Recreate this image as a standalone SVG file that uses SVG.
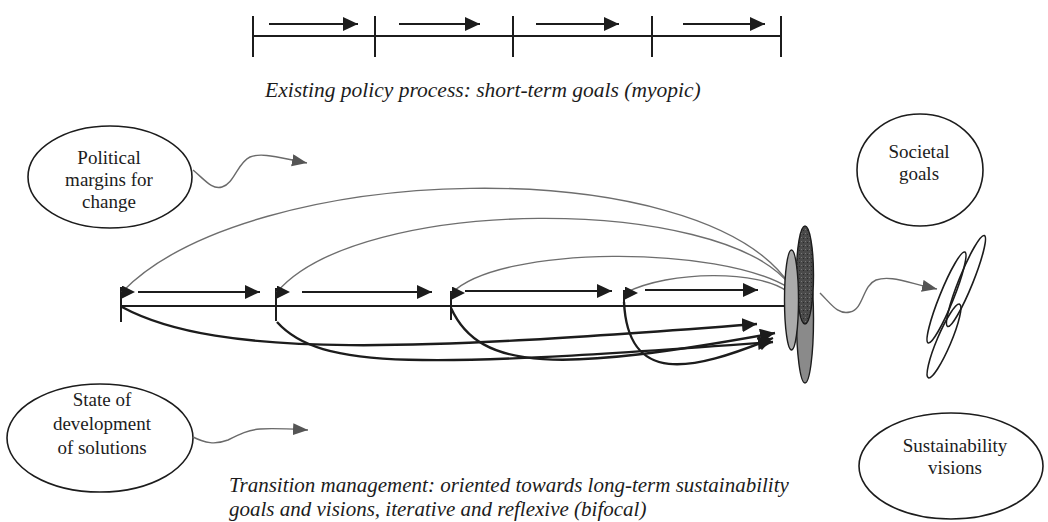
<svg xmlns="http://www.w3.org/2000/svg" width="1048" height="522" viewBox="0 0 1048 522">
<style>
.blk{stroke:#1c1c1c;stroke-width:2;fill:none}
.thk{stroke:#1c1c1c;stroke-width:2.4;fill:none}
.gry{stroke:#6e6e6e;stroke-width:1.4;fill:none}
.wav{stroke:#6a6a6a;stroke-width:1.4;fill:none}
.node{fill:#fff;stroke:#1c1c1c;stroke-width:1.6}
.lbl{font-family:"Liberation Serif","Times New Roman",serif;font-size:19px;fill:#1c1c1c;text-anchor:middle}
.cap{font-family:"Liberation Serif","Times New Roman",serif;font-style:italic;font-size:21px;fill:#1c1c1c}
</style>
<defs>
<marker id="ah" markerUnits="userSpaceOnUse" markerWidth="16" markerHeight="16" refX="15" refY="7" orient="auto"><path d="M0,0 L15,7 L0,14 z" fill="#1c1c1c"/></marker>
<marker id="ahL" markerUnits="userSpaceOnUse" markerWidth="14" markerHeight="14" refX="0" refY="6.5" orient="0"><path d="M0,0 L13,6.5 L0,13 z" fill="#1c1c1c"/></marker>
<marker id="ahG" markerUnits="userSpaceOnUse" markerWidth="16" markerHeight="14" refX="15" refY="6" orient="auto"><path d="M0,0 L15,6 L0,12 z" fill="#555"/></marker>
<pattern id="speck" width="4" height="4" patternUnits="userSpaceOnUse"><rect width="4" height="4" fill="#4a4a4a"/><rect x="1" y="1" width="1" height="1" fill="#777"/><rect x="3" y="2" width="1" height="1" fill="#2a2a2a"/></pattern>
</defs>

<g id="top-timeline">
<line class="blk" x1="253" y1="36" x2="781" y2="36"/>
<line class="blk" x1="253" y1="16" x2="253" y2="57"/>
<line class="blk" x1="375" y1="16" x2="375" y2="57"/>
<line class="blk" x1="513" y1="16" x2="513" y2="57"/>
<line class="blk" x1="652" y1="16" x2="652" y2="57"/>
<line class="blk" x1="781" y1="16" x2="781" y2="57"/>
<line class="blk" x1="269" y1="24" x2="358" y2="24" marker-end="url(#ah)"/>
<line class="blk" x1="399" y1="24" x2="480" y2="24" marker-end="url(#ah)"/>
<line class="blk" x1="536" y1="24" x2="619" y2="24" marker-end="url(#ah)"/>
<line class="blk" x1="683" y1="24" x2="765" y2="24" marker-end="url(#ah)"/>
<text class="cap" x="265" y="97" style="font-size:21.5px">Existing policy process: short-term goals (myopic)</text>
</g>

<g id="political">
<ellipse class="node" cx="110" cy="177" rx="82" ry="51"/>
<text class="lbl" x="109" y="164">Political</text>
<text class="lbl" x="109" y="186">margins for</text>
<text class="lbl" x="109" y="208">change</text>
</g>

<g id="societal">
<ellipse class="node" cx="920" cy="170" rx="63" ry="56"/>
<text class="lbl" x="919" y="158">Societal</text>
<text class="lbl" x="919" y="180">goals</text>
</g>

<g id="state">
<ellipse class="node" cx="100" cy="438" rx="93" ry="54"/>
<text class="lbl" x="102" y="406">State of</text>
<text class="lbl" x="102" y="430">development</text>
<text class="lbl" x="102" y="454">of solutions</text>
</g>

<g id="sustainability">
<ellipse class="node" cx="951" cy="466" rx="92" ry="53"/>
<text class="lbl" x="955" y="452">Sustainability</text>
<text class="lbl" x="955" y="474">visions</text>
</g>

<g id="main-timeline">
<line class="blk" x1="121" y1="306" x2="786" y2="306"/>
<line class="blk" x1="121" y1="287" x2="121" y2="322"/>
<line class="blk" x1="276" y1="288" x2="276" y2="321"/>
<line class="blk" x1="451" y1="291" x2="451" y2="320"/>
<line class="blk" x1="624" y1="290" x2="624" y2="305"/>
<line class="blk" x1="138" y1="292" x2="260" y2="292" marker-end="url(#ah)"/>
<line class="blk" x1="302" y1="292" x2="432" y2="292" marker-end="url(#ah)"/>
<line class="blk" x1="465" y1="291" x2="612" y2="291" marker-end="url(#ah)"/>
<line class="blk" x1="645" y1="290" x2="758" y2="290" marker-end="url(#ah)"/>
</g>

<g id="connectors">
<path class="gry" d="M790,285 C700,150 250,160 122,292" marker-end="url(#ahL)"/>
<path class="gry" d="M790,285 C720,195 360,195 277,292" marker-end="url(#ahL)"/>
<path class="gry" d="M789,288 C720,245 500,245 452,293" marker-end="url(#ahL)"/>
<path class="gry" d="M788,292 C760,270 670,270 625,293" marker-end="url(#ahL)"/>
<path class="thk" d="M122,307 C220,360 420,350 757,324" marker-end="url(#ah)"/>
<path class="thk" d="M277,322 C320,370 420,368 773,342" marker-end="url(#ah)"/>
<path class="thk" d="M451,308 C480,372 560,372 775,333" marker-end="url(#ah)"/>
<path class="thk" d="M624,302 C628,385 690,372 773,338" marker-end="url(#ah)"/>
<path class="wav" d="M193,170 C205,180 212,190 222,187 C234,184 238,162 250,157 C262,152 280,158 307,163" marker-end="url(#ahG)"/>
<path class="wav" d="M193,437 C205,443 215,445 228,440 C240,434 248,430 260,429 C275,428 290,429 308,430" marker-end="url(#ahG)"/>
<path class="wav" d="M820,293 C832,305 838,315 850,312 C864,309 862,286 876,280 C890,275 905,282 937,289" marker-end="url(#ahG)"/>
</g>

<g id="focus-ellipses">
<ellipse cx="805" cy="319" rx="8.5" ry="64" fill="#8a8a8a" stroke="#1c1c1c" stroke-width="1.4"/>
<ellipse cx="805" cy="275" rx="8.5" ry="49" fill="url(#speck)" stroke="#1c1c1c" stroke-width="1.4"/>
<ellipse cx="791.5" cy="300" rx="7" ry="50" fill="#ababab" stroke="#1c1c1c" stroke-width="1.4"/>
</g>

<g id="goal-ellipses" fill="none" stroke="#1c1c1c" stroke-width="1.6">
<ellipse cx="0" cy="0" rx="7" ry="49" transform="translate(966,281) rotate(22)"/>
<ellipse cx="0" cy="0" rx="7" ry="49" transform="translate(946.5,297.5) rotate(22)"/>
<ellipse cx="0" cy="0" rx="7" ry="40" transform="translate(944,341) rotate(23)"/>
</g>

<g id="caption">
<text class="cap" x="229" y="492">Transition management: oriented towards long-term sustainability</text>
<text class="cap" x="229" y="516">goals and visions, iterative and reflexive (bifocal)</text>
</g>
</svg>
